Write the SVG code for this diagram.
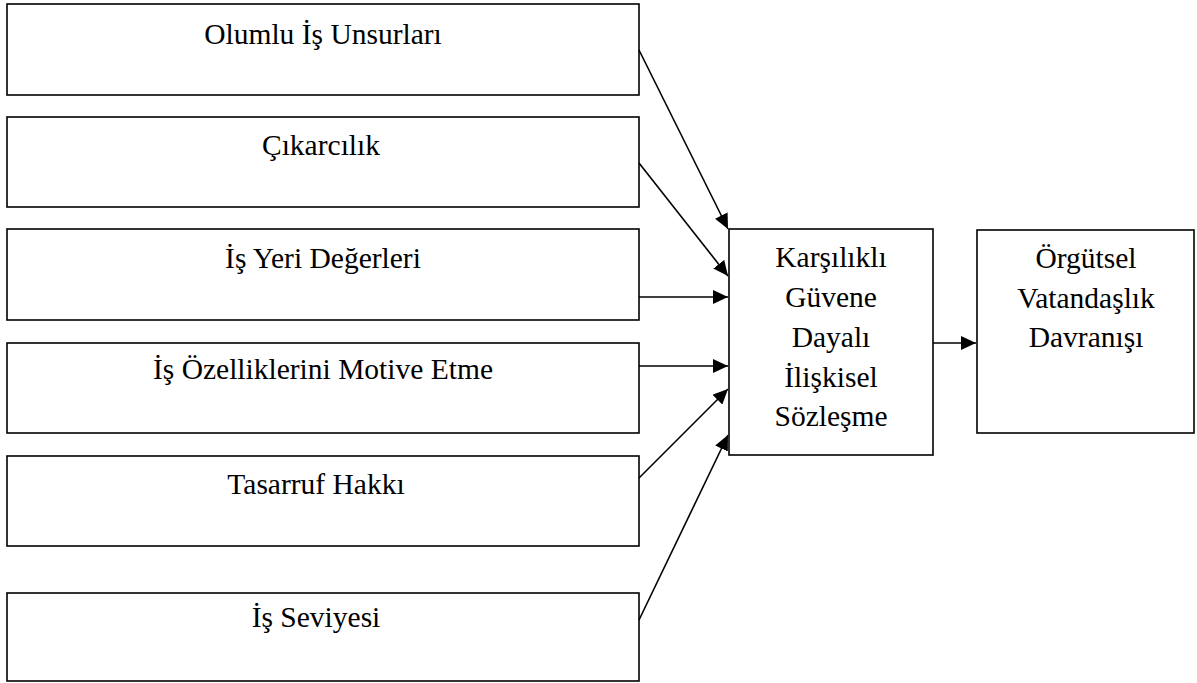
<svg xmlns="http://www.w3.org/2000/svg" width="1197" height="683" viewBox="0 0 1197 683">
<defs>
<style>
.box{fill:#fff;stroke:#000;stroke-width:1.6}
.t{font-family:"Liberation Serif","Times New Roman",serif;font-size:29.5px;fill:#000;text-anchor:middle}
.c{stroke:#000;stroke-width:1.6;fill:none;marker-end:url(#ah)}
</style>
<marker id="ah" markerUnits="userSpaceOnUse" viewBox="0 0 15 14" refX="15" refY="7" markerWidth="15" markerHeight="14" orient="auto">
<path d="M0,0 L15,7 L0,14 z" fill="#000"/>
</marker>
</defs>
<rect width="1197" height="683" fill="#fff"/>
<g id="n1"><rect class="box" x="7" y="4" width="632" height="91"/><text class="t" x="323" y="44">Olumlu İş Unsurları</text></g>
<g id="n2"><rect class="box" x="7" y="117" width="632" height="90"/><text class="t" x="321" y="155">Çıkarcılık</text></g>
<g id="n3"><rect class="box" x="7" y="229" width="632" height="91"/><text class="t" x="323" y="268">İş Yeri Değerleri</text></g>
<g id="n4"><rect class="box" x="7" y="343" width="632" height="90"/><text class="t" x="323" y="379">İş Özelliklerini Motive Etme</text></g>
<g id="n5"><rect class="box" x="7" y="456" width="632" height="90"/><text class="t" x="316" y="494">Tasarruf Hakkı</text></g>
<g id="n6"><rect class="box" x="7" y="593" width="632" height="88"/><text class="t" x="316" y="627">İş Seviyesi</text></g>
<g id="n7"><rect class="box" x="729" y="229" width="204" height="226"/>
<text class="t" x="831" y="267">Karşılıklı</text>
<text class="t" x="831" y="307">Güvene</text>
<text class="t" x="831" y="347">Dayalı</text>
<text class="t" x="831" y="387">İlişkisel</text>
<text class="t" x="831" y="426">Sözleşme</text></g>
<g id="n8"><rect class="box" x="977" y="230" width="217" height="203"/>
<text class="t" x="1086" y="268">Örgütsel</text>
<text class="t" x="1086" y="308">Vatandaşlık</text>
<text class="t" x="1086" y="347">Davranışı</text></g>
<g id="connectors">
<line class="c" x1="639" y1="50" x2="728" y2="229"/>
<line class="c" x1="639" y1="163" x2="728" y2="276"/>
<line class="c" x1="639" y1="297" x2="728" y2="297"/>
<line class="c" x1="639" y1="366" x2="728" y2="366"/>
<line class="c" x1="639" y1="478" x2="728" y2="389"/>
<line class="c" x1="639" y1="620" x2="728" y2="435"/>
<line class="c" x1="933" y1="343" x2="976" y2="343"/>
</g>
</svg>
